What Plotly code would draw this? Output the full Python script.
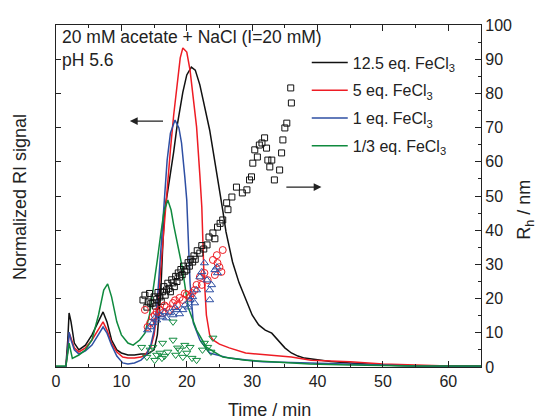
import plotly.graph_objects as go

# ---------------- data ----------------
# RI traces (normalized signal, 0-100 scale on left axis)
t_black = [0, 1.5, 1.8, 2.0, 2.3, 2.8, 3.5, 4.5, 5.5, 6.5, 7.2, 7.8, 8.5, 9.3, 10, 11, 12, 13, 14, 14.5,
           15, 15.5, 16, 16.3, 16.6, 17, 17.5, 18, 18.5, 19, 19.4, 20, 20.7, 21.3, 22, 22.5, 23, 23.5, 24,
           24.7, 25.5, 26, 27, 28, 29, 30, 31, 32, 33, 34, 35, 36, 37, 38, 40, 42, 45, 50, 55, 60, 65]
v_black = [0, 0, 7.9, 15.8, 13.2, 7.0, 5.0, 6.4, 9.4, 13.2, 16.1, 13.2, 7.9, 5.0, 4.1, 3.5, 3.5, 3.8, 3.8, 4.4,
           5.0, 9.4, 21.1, 34.2, 45.9, 50.3, 56.1, 62.9, 70.2, 76.6, 80.4, 85.4, 87.7, 86.8, 82.5, 78.1, 73.7, 69.3, 63.5,
           55.6, 45.9, 39.5, 30.7, 24.6, 19.6, 15.2, 12.3, 10.8, 9.9, 7.9, 5.6, 4.1, 3.2, 2.6, 2.0, 1.6, 1.2, 0.6, 0.3, 0.3, 0.3]

t_red = [0, 1.5, 1.8, 2.0, 2.3, 2.8, 3.5, 4.5, 5.5, 6.5, 7.2, 7.8, 8.5, 9.3, 10.2, 11, 12, 13, 13.6, 14.5,
         15, 15.5, 16, 16.5, 17, 17.5, 18, 18.5, 19, 19.4, 20, 20.5, 20.9, 21.5, 22.0, 22.3, 22.6, 23, 23.5, 24,
         25, 26.5, 29, 33, 36, 39, 42, 45, 50, 55, 60, 65]
v_red = [0, 0, 5.0, 9.9, 8.5, 5.6, 4.4, 5.6, 7.9, 10.8, 13.2, 10.8, 7.0, 4.4, 2.9, 2.6, 2.6, 2.9, 3.5, 5.8,
         9.4, 16.7, 28.4, 41.5, 51.8, 63.5, 73.7, 82.5, 90.4, 93.3, 92.1, 86.8, 80.1, 70.2, 56.1, 46.8, 28.4, 15.2, 9.4, 7.9,
         6.7, 5.6, 4.1, 3.5, 2.9, 2.0, 1.8, 1.5, 0.9, 0.6, 0.3, 0.3]

t_blue = [0, 1.5, 1.8, 2.0, 2.3, 2.8, 3.5, 4.5, 5.5, 6.5, 7.2, 7.8, 8.5, 9.3, 10.2, 11, 12, 13, 13.8, 14.5,
          15, 15.5, 16, 16.5, 17, 17.5, 18.2, 18.8, 19.2, 19.7, 20, 20.5, 21, 22, 23.5, 26.5, 31.6, 38.8, 45, 50, 55, 65]
v_blue = [0, 0, 5.0, 10.2, 7.9, 5.0, 3.8, 4.7, 6.4, 9.4, 11.7, 9.9, 6.4, 3.2, 1.2, 0.9, 1.2, 2.0, 3.5, 6.4,
          10.8, 19.6, 32.7, 47.4, 60.5, 68.4, 72.2, 69.9, 65.5, 55.6, 48.8, 24.6, 12.9, 7.9, 4.1, 2.6, 1.5, 1.2, 0.9, 0.6, 0.3, 0.2]

t_green = [0, 1.5, 1.8, 2.0, 2.5, 3.5, 4.5, 5.5, 6.5, 7.3, 7.9, 8.5, 9.3, 10, 11, 11.8, 12.8, 13.6, 14.3,
           15, 15.5, 16, 16.5, 17.1, 17.6, 18, 18.5, 19.3, 20.2, 21.5, 23, 25.5, 29, 34, 38.8, 45, 55, 65]
v_green = [0.3, 0.3, 4.0, 7.0, 2.5, 3.5, 5.0, 7.9, 15.2, 22.5, 24.3, 20.5, 13.2, 9.4, 7.0, 6.4, 7.9, 9.9, 15.2,
           24.0, 31.3, 38.6, 45.3, 48.8, 45.9, 41.5, 37.1, 29.2, 17.5, 10.8, 5.8, 2.9, 2.0, 1.5, 0.9, 0.6, 0.3, 0.3]

# Hydrodynamic radius (right axis, nm)
t_sq = [13.3, 13.6, 13.9, 14.1, 14.3, 14.5, 14.8, 15.0, 15.2, 15.4, 15.6, 15.9, 16.1, 16.3, 16.5, 16.7, 16.9,
        17.1, 17.3, 17.5, 17.7, 17.9, 18.1, 18.3, 18.5, 18.7, 18.9, 19.1, 19.3, 19.5, 19.7, 20.0, 20.2, 20.4,
        20.6, 20.9, 21.1, 21.3, 21.6, 22.0, 22.3, 22.6, 23.1, 23.4, 24.0, 24.3, 24.7, 25.1, 25.5, 26.1, 26.3,
        26.9, 27.6, 28.5, 29.2, 29.6, 29.9, 30.1, 30.4, 30.8, 31.1, 31.5, 31.9, 32.2, 32.4, 32.7, 33.0, 33.4,
        34.2, 34.5, 34.7, 35.0, 35.3, 35.9, 36.0]
r_sq = [19.6, 21.0, 17.5, 19.0, 21.5, 18.5, 18.7, 20.5, 17.8, 19.8, 21.8, 20.5, 19.2, 22.0, 23.5, 21.0, 22.5,
        24.5, 23.0, 22.0, 25.5, 24.6, 23.5, 26.5, 25.0, 27.5, 26.3, 28.5, 27.0, 29.5, 28.0, 28.4, 30.5, 29.5,
        31.5, 30.7, 32.5, 31.5, 34.0, 33.3, 35.5, 34.5, 35.7, 38.0, 39.2, 37.5, 40.9, 42.0, 43.0, 48.0, 46.0,
        49.7, 52.6, 50.9, 51.8, 54.7, 55.6, 59.6, 63.5, 61.4, 64.9, 65.5, 67.0, 64.0, 60.5, 58.5, 60.5, 54.7,
        57.6, 62.6, 66.4, 69.9, 71.3, 81.6, 77.2]

t_ci = [13.6, 14.0, 14.4, 14.8, 15.1, 15.4, 15.9, 16.3, 16.6, 16.9, 17.4, 17.9, 18.2, 18.5, 18.9, 19.4, 19.7,
        20.0, 20.5, 20.8, 21.2, 21.5, 22.0, 22.3, 22.7, 23.2, 24.0, 24.3, 24.6, 24.7, 25.0, 25.3, 25.5]
r_ci = [16.7, 11.7, 12.9, 14.6, 15.2, 16.1, 16.7, 15.8, 18.0, 17.5, 16.7, 18.7, 19.5, 18.1, 20.2, 19.6, 21.5,
        21.1, 20.5, 21.6, 22.5, 24.0, 26.3, 24.0, 27.5, 25.4, 31.3, 26.9, 32.7, 30.4, 29.2, 27.8, 34.2]

t_tu = [14.0, 14.4, 14.8, 15.1, 15.4, 15.9, 16.3, 16.6, 16.9, 17.4, 17.9, 18.2, 18.5, 18.9, 19.4, 19.7, 20.2,
        20.5, 20.9, 21.2, 21.5, 22.0, 22.3, 22.7, 23.1, 23.5, 23.5, 23.8, 24.3, 24.6, 24.7]
r_tu = [10.8, 11.7, 12.9, 14.3, 13.7, 15.2, 14.6, 16.1, 14.3, 15.8, 15.2, 17.3, 16.7, 15.5, 16.7, 18.1, 17.5,
        19.6, 20.5, 18.7, 22.5, 26.3, 27.8, 30.4, 25.4, 19.6, 22.5, 24.0, 28.4, 29.2, 27.5]

t_td = [13.1, 13.9, 14.4, 14.8, 15.1, 15.4, 15.9, 16.2, 16.3, 16.6, 17.1, 17.9, 17.9, 18.3, 18.6, 18.9, 19.4,
        19.7, 20.0, 20.5, 20.8, 21.5, 22.4, 22.7, 23.2, 23.7, 24.0]
r_td = [5.8, 2.9, 5.0, 5.8, 2.0, 3.5, 4.1, 2.6, 7.0, 3.2, 4.4, 13.2, 7.9, 3.5, 5.6, 5.0, 2.9,
        6.4, 4.1, 5.8, 2.6, 2.0, 5.0, 7.0, 5.8, 4.4, 8.5]

series_names = ["12.5 eq. FeCl<sub>3</sub>", "5 eq. FeCl<sub>3</sub>", "1 eq. FeCl<sub>3</sub>", "1/3 eq. FeCl<sub>3</sub>"]
x_ticks = [0, 10, 20, 30, 40, 50, 60]
r_ticks = [0, 10, 20, 30, 40, 50, 60, 70, 80, 90, 100]

# ---------------- style ----------------
C_BLACK = "#111111"
C_RED = "#ee1c24"
C_BLUE = "#2e4fa3"
C_GREEN = "#0f8a3e"
FONT = "Liberation Sans, Arial, sans-serif"
TXT = "#222222"

fig = go.Figure()

lines = [(t_black, v_black, C_BLACK), (t_red, v_red, C_RED), (t_blue, v_blue, C_BLUE), (t_green, v_green, C_GREEN)]
for i, (tt, vv, c) in enumerate(lines):
    fig.add_trace(go.Scatter(x=tt, y=vv, mode="lines", name=series_names[i],
                             line=dict(color=c, width=1.5), legendgroup=str(i), yaxis="y"))

markers = [(t_sq, r_sq, C_BLACK, "square-open", 6),
           (t_ci, r_ci, C_RED, "circle-open", 7),
           (t_tu, r_tu, C_BLUE, "triangle-up-open", 7),
           (t_td, r_td, C_GREEN, "triangle-down-open", 7)]
for tt, rr, c, sym, sz in markers:
    fig.add_trace(go.Scatter(x=tt, y=rr, mode="markers", showlegend=False, yaxis="y2",
                             marker=dict(symbol=sym, size=sz, color=c, line=dict(color=c, width=1))))

axis_common = dict(showline=True, linecolor=TXT, linewidth=1.2, showgrid=False, zeroline=False,
                   automargin=False, ticks="inside", tickcolor=TXT,
                   tickfont=dict(family=FONT, size=16, color=TXT))

fig.update_layout(
    width=539, height=419, autosize=False,
    margin=dict(l=56, r=58, t=25, b=52),
    paper_bgcolor="white", plot_bgcolor="white",
    font=dict(family=FONT, color=TXT),
    xaxis=dict(range=[0, 65], tickvals=x_ticks, ticklen=6, mirror="ticks",
               minor=dict(dtick=5, ticklen=3, ticks="inside", tickcolor=TXT),
               **axis_common),
    yaxis=dict(range=[0, 100], dtick=10, ticklen=5, showticklabels=False, **axis_common),
    yaxis2=dict(range=[0, 100], tickvals=r_ticks, ticklen=6, overlaying="y", side="right",
                minor=dict(dtick=5, ticklen=3, ticks="inside", tickcolor=TXT),
                **axis_common),
    legend=dict(x=0.59, y=0.94, xanchor="left", yanchor="top", bgcolor="rgba(0,0,0,0)",
                font=dict(family=FONT, size=16, color=TXT), tracegroupgap=4, itemwidth=36),
    showlegend=True,
)

# axis titles
fig.add_annotation(xref="paper", yref="paper", x=0.5035, y=0, yshift=-43, xanchor="center", yanchor="middle",
                   showarrow=False, text="Time / min", font=dict(family=FONT, size=18, color=TXT))
fig.add_annotation(xref="paper", yref="paper", x=0, y=0.497, xshift=-36, xanchor="center", yanchor="middle",
                   showarrow=False, textangle=-90, text="Normalized RI signal",
                   font=dict(family=FONT, size=18, color=TXT))
fig.add_annotation(xref="paper", yref="paper", x=1, y=0.46, xshift=45, xanchor="center", yanchor="middle",
                   showarrow=False, textangle=-90, text="R<sub>h</sub> / nm",
                   font=dict(family=FONT, size=18, color=TXT))

# condition text
fig.add_annotation(xref="paper", yref="paper", x=0.0, y=1.0, xanchor="left", yanchor="middle",
                   xshift=4, yshift=-12, showarrow=False, text="20 mM acetate + NaCl (I=20 mM)",
                   font=dict(family=FONT, size=17.5, color=TXT))
fig.add_annotation(xref="paper", yref="paper", x=0.0, y=1.0, xanchor="left", yanchor="middle",
                   xshift=4, yshift=-35, showarrow=False, text="pH 5.6",
                   font=dict(family=FONT, size=17.5, color=TXT))

# arrows indicating axes
fig.add_annotation(x=11.3, y=71.9, ax=16.6, ay=71.9, xref="x", yref="y", axref="x", ayref="y",
                   showarrow=True, arrowhead=2, arrowsize=1.2, arrowwidth=1.3, arrowcolor=TXT, text="")
fig.add_annotation(x=40.6, y=52.6, ax=35.0, ay=52.6, xref="x", yref="y", axref="x", ayref="y",
                   showarrow=True, arrowhead=2, arrowsize=1.2, arrowwidth=1.3, arrowcolor=TXT, text="")

fig.write_html("out.html")
